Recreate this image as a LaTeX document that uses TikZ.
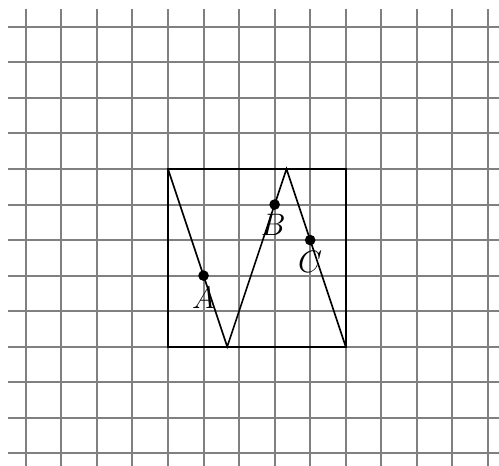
\documentclass[tikz,border=0pt]{standalone}
\begin{document}
\begin{tikzpicture}[x=1cm,y=1cm,
  gridline/.style={draw=gray, line width=1.6pt},
  figline/.style={draw=black, line width=1.3pt},
  dot/.style={circle, fill=black, inner sep=0pt, minimum size=0.3cm},
  lbl/.style={inner sep=0pt, font=\fontsize{24}{28}\selectfont}]
\clip (-4.727,-3.348) rectangle (9.313,9.755);
\fill[white] (-4.727,-3.348) rectangle (9.313,9.755);
\draw[gridline] (-4.5,-3.5) grid (9.5,9.5);
\draw[figline] (0,0) rectangle (5,5);
\coordinate (p0) at (0,5);
\coordinate (p1) at (5/3,0);
\coordinate (p2) at (10/3,5);
\coordinate (p3) at (5,0);
\draw[figline, line join=miter] (p0) -- (p1) -- (p2) -- (p3);
\node[dot] (A) at (1,2) {};
\node[dot] (B) at (3,4) {};
\node[dot] (C) at (4,3) {};
\node[lbl] (la) at (1,1.38) {$A$};
\node[lbl] (lb) at (2.96,3.43) {$B$};
\node[lbl] (lc) at (4,2.38) {$C$};
\end{tikzpicture}
\end{document}
